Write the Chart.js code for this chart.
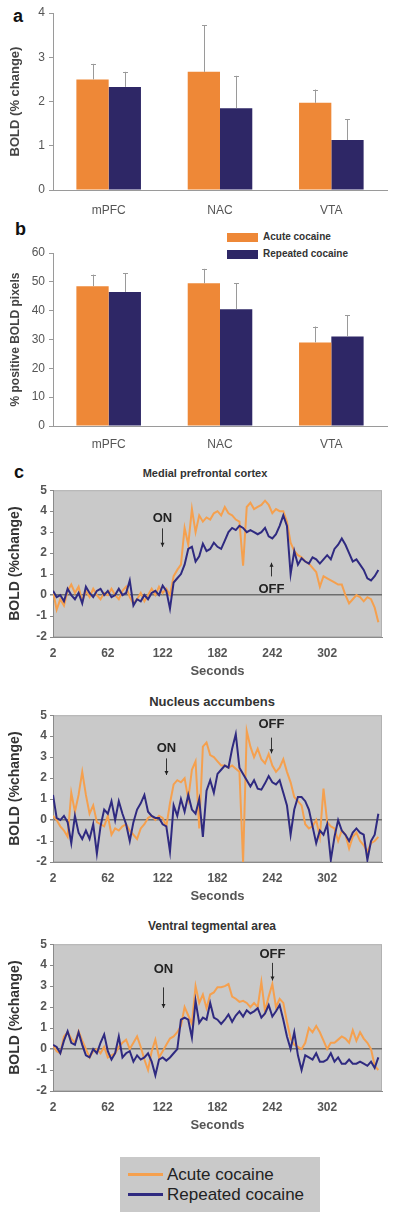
<!DOCTYPE html>
<html>
<head>
<meta charset="utf-8">
<script src="https://cdn.jsdelivr.net/npm/chart.js@4.4.0/dist/chart.umd.min.js"></script>
<style>
body { margin: 0; background: #fff; font-family: "Liberation Sans", Arial, sans-serif; }
#page { position: relative; width: 400px; height: 1217px; overflow: hidden; background: #fff; }
canvas { position: absolute; left: 0; display: block; }
.letter { position: absolute; font-weight: bold; font-size: 18px; line-height: 18px; color: #111; }
.title { position: absolute; font-weight: bold; color: #333; text-align: center; width: 260px; white-space: nowrap; }
.keytxt { position: absolute; font-weight: bold; font-size: 10px; line-height: 10px; color: #333; white-space: nowrap; }
.keybox { position: absolute; width: 31px; height: 9px; }
#legend { position: absolute; left: 120px; top: 1157px; width: 200px; height: 55px; background: #c9c9c9; }
#legend .ln { position: absolute; left: 8px; width: 35px; height: 3px; }
#legend .tx { position: absolute; left: 47px; font-size: 17px; line-height: 17px; color: #222; white-space: nowrap; }
</style>
</head>
<body>
<div id="page">
  <div class="letter" style="left:13px;top:7px">a</div>
  <div class="letter" style="left:15px;top:220px">b</div>
  <div class="letter" style="left:14px;top:463px">c</div>

  <div class="keybox" style="left:227px;top:233px;background:#ee8837"></div>
  <div class="keytxt" style="left:263px;top:232px">Acute cocaine</div>
  <div class="keybox" style="left:227px;top:250px;background:#2e2766"></div>
  <div class="keytxt" style="left:263px;top:249px">Repeated cocaine</div>

  <div class="title" style="left:75px;top:468px;font-size:11px;line-height:11px">Medial prefrontal cortex</div>
  <div class="title" style="left:82px;top:695px;font-size:13px;line-height:13px">Nucleus accumbens</div>
  <div class="title" style="left:82px;top:920px;font-size:12px;line-height:12px">Ventral tegmental area</div>

  <canvas id="chartA" width="400" height="222" style="top:0px"></canvas>
  <canvas id="chartB" width="400" height="240" style="top:225px"></canvas>
  <canvas id="chartC1" width="400" height="205" style="top:480px"></canvas>
  <canvas id="chartC2" width="400" height="205" style="top:705px"></canvas>
  <canvas id="chartC3" width="400" height="205" style="top:934px"></canvas>

  <div id="legend">
    <div class="ln" style="top:16px;background:#f5a04e"></div>
    <div class="tx" style="top:9px">Acute cocaine</div>
    <div class="ln" style="top:36px;background:#2f2a80"></div>
    <div class="tx" style="top:29px">Repeated cocaine</div>
  </div>
</div>
<script>
// datos de las barras (a y b)
const regions = ['mPFC', 'NAC', 'VTA'];
const boldAcute = [2.5, 2.67, 1.97];
const boldAcuteErr = [0.35, 1.05, 0.3];
const boldRepeated = [2.33, 1.85, 1.13];
const boldRepeatedErr = [0.34, 0.73, 0.47];
const pixelsAcute = [48.5, 49.5, 29];
const pixelsAcuteErr = [4, 5, 5.5];
const pixelsRepeated = [46.5, 40.5, 31];
const pixelsRepeatedErr = [6.5, 9, 7.5];

// series de tiempo (c)
const seconds = [
  2, 6, 10, 14, 18, 22, 26, 30, 34, 38,
  42, 46, 50, 54, 58, 62, 66, 70, 74, 78,
  82, 86, 90, 94, 98, 102, 106, 110, 114, 118,
  122, 126, 130, 134, 138, 142, 146, 150, 154, 158,
  162, 166, 170, 174, 178, 182, 186, 190, 194, 198,
  202, 206, 210, 214, 218, 222, 226, 230, 234, 238,
  242, 246, 250, 254, 258, 262, 266, 270, 274, 278,
  282, 286, 290, 294, 298, 302, 306, 310, 314, 318,
  322, 326, 330, 334, 338, 342, 346, 350, 354, 358
];
const secondTicks = [2, 62, 122, 182, 242, 302];

const mpfcAcute = [
  0.2, -0.7, -0.2, -0.5, 0.2, 0.5, 0.1, 0.4, -0.3, 0.2,
  -0.1, 0.3, 0.0, -0.2, 0.1, 0.0, 0.3, 0.0, -0.2, 0.2,
  0.4, -0.1, -0.4, -0.2, 0.1, -0.3, 0.0, 0.3, 0.0, 0.4,
  0.1, 0.3, 0.0, 0.9, 1.2, 1.45, 3.2, 2.4, 4.1, 3.0,
  3.8, 3.5, 3.7, 3.6, 3.9, 4.0, 3.8, 4.2, 3.9, 3.8,
  3.6, 3.5, 1.4, 4.2, 4.4, 4.1, 4.2, 4.3, 4.5, 4.3,
  3.9, 4.1, 4.0, 4.0, 3.5, 2.5, 2.1, 1.9, 1.8, 1.6,
  1.5, 1.3, 1.1, 0.4, 0.9, 0.8, 0.7, 0.6, 0.5, 0.5,
  0.0, -0.4, -0.2, 0.0, -0.1, -0.3, -0.1, -0.2, -0.6, -1.3
];
const mpfcRepeated = [
  0.2, -0.1, 0.0, -0.3, 0.3, 0.0, -0.2, 0.1, -0.4, 0.4,
  0.1, -0.1, 0.2, 0.3, 0.0, 0.2, -0.1, 0.0, 0.3, 0.0,
  0.1, 0.7, -0.5, -0.2, -0.3, 0.0, -0.2, 0.1, 0.2, 0.0,
  0.45, 0.2, -0.65, 0.6, 0.8, 1.0, 1.45, 2.2, 2.3, 1.6,
  1.85, 2.45, 2.1, 2.2, 2.5, 2.3, 2.2, 2.6, 3.0, 3.2,
  3.1, 3.3, 3.2, 3.0, 3.1, 3.0, 2.9, 3.0, 3.2, 2.8,
  2.7, 2.9, 3.3, 3.8, 3.3, 1.0, 2.1, 1.45, 1.75, 1.6,
  1.5, 1.8, 1.7, 1.5, 1.7, 1.9, 1.7, 2.2, 2.4, 2.7,
  2.4, 2.0, 1.6, 1.7, 1.45, 1.2, 0.8, 0.7, 0.9, 1.2
];
const nacAcute = [
  0.2, 0.0, -0.3, -0.5, -0.8, 1.3, 0.4, 1.2, 2.3, 1.2,
  0.3, 0.7, -0.1, -0.2, -0.3, 0.2, -0.7, -0.4, -0.5, -0.3,
  -0.2, -0.5, -0.7, -0.9, -0.4, -0.2, 0.1, 0.2, 0.0, 0.2,
  0.1, -0.3, 0.8, 1.7, 1.9, 1.8, 2.0, 1.0, 2.4, 2.8,
  -0.4, 3.5, 3.7, 3.1, 3.0, 2.8, 2.6, 2.6, 2.5, 2.6,
  2.45, 2.3, -2.0, 4.25, 3.5, 3.0, 3.4, 2.9, 2.7, 3.15,
  2.6, 2.3, 2.5, 2.9, 2.3, 1.8, 1.1, 0.9, 0.7, -0.2,
  -0.4, -0.3, 0.0, -0.8, 1.5, -0.1, -0.3, -0.4, -1.0, -0.5,
  -0.7, -1.35, -0.8, -0.6, -1.0, -1.2, -1.5, -1.1, -1.0, -0.8
];
const nacRepeated = [
  1.2, 0.1, 0.0, 0.2, -0.1, -1.1, 0.2, -0.6, -0.9, -0.5,
  -0.9, -0.2, -1.6, -0.3, 0.5, 0.3, 0.9, 0.0, 0.9, 0.3,
  -0.2, -1.0, -0.1, 0.5, 0.8, 1.2, 0.4, 0.2, 0.1, 0.1,
  -0.2, -0.3, -1.5, 0.7, 0.2, 1.0, 0.4, 1.2, 0.5, 0.3,
  1.0, -0.8, 1.4, 1.9, 1.3, 2.2, 2.4, 2.6, 2.5, 3.4,
  4.1, 2.5, 2.2, 1.9, 1.6, 1.9, 1.5, 1.45, 1.75, 2.1,
  1.8, 1.7, 1.9, 1.3, 0.7, -0.7, 0.5, 1.1, 1.1, 0.9,
  0.5, -0.3, -1.1, -0.5, -0.7, -0.2, -1.9, -0.8, 0.0, -0.5,
  -0.7, -1.0, -0.6, -0.4, -0.6, -0.7, -1.9, -1.0, -0.7, 0.3
];
const vtaAcute = [
  0.2, -0.1, -0.2, 0.6, 0.8, 0.5, 0.3, 0.85, 0.4, 0.0,
  -0.4, -0.1, 0.0, -0.2, 0.1, -0.4, -0.3, -0.2, 0.1, 0.3,
  0.45, 0.0, 0.3, 0.6, 0.1, -0.5, -1.0, -0.1, 0.45, -0.4,
  -0.1, 0.2, 0.5, 0.6, 0.8, 1.1, 2.0, 1.6, 1.2, 3.0,
  2.2, 2.6, 1.95, 2.6, 2.7, 2.95, 2.95, 3.0, 3.1, 2.5,
  2.4, 2.25, 2.3, 2.2, 2.0, 2.2, 2.0, 3.2, 1.8, 2.5,
  3.1, 2.0, 2.4, 2.2, 1.3, 0.5, 0.2, 0.1, 0.0, 0.3,
  1.0, 0.8, 1.1, 0.8, 0.4, 0.0, 0.3, 0.3, 0.45, 0.6,
  0.5, 0.3, 0.9, 0.4, 0.8, 0.5, 0.3, 0.0, -0.8, -1.0
];
const vtaRepeated = [
  0.2, 0.1, -0.2, 0.4, 0.85, 0.3, 0.2, 0.8, 0.2, -0.3,
  -0.4, 0.0, -0.2, 0.3, 0.7, -0.1, -0.5, -0.2, 0.6, -0.4,
  -0.2, -0.1, -0.6, -0.3, -0.5, -0.4, -0.2, -0.6, -1.25, -0.5,
  -0.4, -0.55, -0.4, -0.2, 0.0, 1.4, 1.5, 1.4, 0.55, 2.3,
  1.25, 1.5, 1.4, 2.2, 1.5, 1.4, 1.2, 1.4, 1.65, 1.3,
  1.6, 1.8, 1.55, 1.85, 1.7, 1.8, 1.95, 1.5, 1.7, 2.1,
  1.55, 1.8, 2.1, 1.4, 0.6, 0.0, 0.8, -0.3, -1.0, -0.3,
  -0.4, -0.5, -0.2, -0.6, -0.6, -0.5, -0.2, -0.6, -0.4, -0.7,
  -0.7, -0.5, -0.7, -0.7, -0.6, -0.7, -0.8, -0.6, -0.9, -0.4
];

Chart.defaults.font.family = '"Liberation Sans", Arial, sans-serif';
Chart.defaults.animation = false;

const ORANGE_BAR = '#ee8837', NAVY_BAR = '#2e2766';
const ORANGE_LINE = '#f5a04e', NAVY_LINE = '#2f2a80';

// barras de error hacia arriba
const errorBars = {
  id: 'errorBars',
  afterDatasetsDraw(chart) {
    const ctx = chart.ctx;
    const y = chart.scales.y;
    ctx.save();
    ctx.strokeStyle = '#9a9a9a';
    ctx.lineWidth = 1;
    chart.data.datasets.forEach((ds, i) => {
      chart.getDatasetMeta(i).data.forEach((bar, j) => {
        const top = y.getPixelForValue(ds.data[j]);
        const tip = y.getPixelForValue(ds.data[j] + ds.errors[j]);
        const x = Math.round(bar.x) + 0.5;
        ctx.beginPath();
        ctx.moveTo(x, top);
        ctx.lineTo(x, tip);
        ctx.moveTo(x - 2.5, Math.round(tip) + 0.5);
        ctx.lineTo(x + 2.5, Math.round(tip) + 0.5);
        ctx.stroke();
      });
    });
    ctx.restore();
  }
};

// fondo gris del area de trazado
const plotFrame = {
  id: 'plotFrame',
  beforeDraw(chart) {
    const a = chart.chartArea;
    const ctx = chart.ctx;
    ctx.save();
    ctx.fillStyle = '#c9c9c9';
    ctx.fillRect(a.left, a.top, a.width, a.height);
    ctx.strokeStyle = '#b2b2b2';
    ctx.lineWidth = 1;
    ctx.strokeRect(a.left + 0.5, a.top + 0.5, a.width - 1, a.height - 1);
    ctx.restore();
  }
};

// etiquetas ON / OFF con flechas
const onOff = {
  id: 'onOff',
  afterDatasetsDraw(chart, args, opts) {
    const xs = chart.scales.x, ys = chart.scales.y, ctx = chart.ctx;
    ctx.save();
    ctx.fillStyle = '#222';
    ctx.strokeStyle = '#333';
    ctx.lineWidth = 1;
    ctx.font = 'bold 13px "Liberation Sans", Arial, sans-serif';
    ctx.textAlign = 'center';
    ctx.textBaseline = 'middle';
    (opts.marks || []).forEach(m => {
      const x = Math.round(xs.getPixelForValue(m.t)) + 0.5;
      ctx.fillText(m.text, x, ys.getPixelForValue(m.textY));
      const y1 = ys.getPixelForValue(m.from), y2 = ys.getPixelForValue(m.to);
      ctx.beginPath();
      ctx.moveTo(x, y1);
      ctx.lineTo(x, y2);
      ctx.stroke();
      const d = y2 > y1 ? -1 : 1;
      ctx.beginPath();
      ctx.moveTo(x - 2, y2 + 4 * d);
      ctx.lineTo(x, y2);
      ctx.lineTo(x + 2, y2 + 4 * d);
      ctx.closePath();
      ctx.fill();
    });
    ctx.restore();
  }
};

function barChart(id, acute, acuteErr, repeated, repeatedErr, yMax, yStep, yTitle, titleSize, padTop, xHeight, labelPad) {
  return new Chart(document.getElementById(id), {
    type: 'bar',
    data: {
      labels: regions,
      datasets: [
        { label: 'Acute cocaine', data: acute, errors: acuteErr, backgroundColor: ORANGE_BAR },
        { label: 'Repeated cocaine', data: repeated, errors: repeatedErr, backgroundColor: NAVY_BAR }
      ]
    },
    options: {
      responsive: false,
      layout: { padding: { top: padTop, right: 13, left: 0, bottom: 0 } },
      datasets: { bar: { barPercentage: 1, categoryPercentage: 0.58 } },
      plugins: { legend: { display: false }, tooltip: { enabled: false } },
      scales: {
        x: {
          grid: { display: false, drawTicks: false },
          border: { display: true, color: '#9a9a9a' },
          ticks: { color: '#555', font: { size: 12 }, padding: labelPad },
          afterFit(s) { s.height = xHeight; }
        },
        y: {
          min: 0, max: yMax,
          ticks: { stepSize: yStep, color: '#555', font: { size: 12 }, padding: 4 },
          grid: { drawOnChartArea: false, drawTicks: true, tickLength: 4, color: '#9a9a9a' },
          border: { display: true, color: '#9a9a9a' },
          title: { display: true, text: yTitle, color: '#444', font: { size: titleSize, weight: 'bold' }, padding: { top: 8, bottom: 0 } },
          afterFit(s) { s.width = 53; }
        }
      }
    },
    plugins: [errorBars]
  });
}

function lineChart(id, acute, repeated, marks) {
  return new Chart(document.getElementById(id), {
    type: 'line',
    data: {
      labels: seconds,
      datasets: [
        { label: 'Acute cocaine', data: acute, borderColor: ORANGE_LINE, borderWidth: 2, pointRadius: 0, order: 1 },
        { label: 'Repeated cocaine', data: repeated, borderColor: NAVY_LINE, borderWidth: 2, pointRadius: 0, order: 0 }
      ]
    },
    options: {
      responsive: false,
      layout: { padding: { top: 7, right: 18, left: 0, bottom: 0 } },
      plugins: { legend: { display: false }, tooltip: { enabled: false }, onOff: { marks: marks } },
      scales: {
        x: {
          type: 'linear', min: 2, max: 362,
          afterBuildTicks(s) { s.ticks = secondTicks.map(v => ({ value: v })); },
          grid: { display: false, drawTicks: false },
          border: { display: true, color: '#8a8a8a' },
          ticks: { color: '#555', font: { size: 12, weight: 'bold' }, padding: 9 },
          title: { display: true, text: 'Seconds', color: '#555', font: { size: 13, weight: 'bold' }, padding: { top: 0, bottom: 6 } },
          afterFit(s) { s.height = 48; }
        },
        y: {
          min: -2, max: 5,
          ticks: { stepSize: 1, color: '#555', font: { size: 12, weight: 'bold' }, padding: 3 },
          grid: {
            drawTicks: true, tickLength: 3, tickColor: '#8a8a8a',
            color: ctx => ctx.tick && ctx.tick.value === 0 ? '#6e6e6e' : 'rgba(0,0,0,0)',
            lineWidth: ctx => ctx.tick && ctx.tick.value === 0 ? 1.5 : 1
          },
          border: { display: true, color: '#8a8a8a' },
          title: { display: true, text: 'BOLD (%change)', color: '#333', font: { size: 14, weight: 'bold' }, padding: { top: 7, bottom: 0 } },
          afterFit(s) { s.width = 53; }
        }
      }
    },
    plugins: [plotFrame, onOff]
  });
}

barChart('chartA', boldAcute, boldAcuteErr, boldRepeated, boldRepeatedErr, 4, 1, 'BOLD (% change)', 13, 13, 32, 13);
barChart('chartB', pixelsAcute, pixelsAcuteErr, pixelsRepeated, pixelsRepeatedErr, 60, 10, '% positive BOLD pixels', 12, 28, 39, 11);

lineChart('chartC1', mpfcAcute, mpfcRepeated, [
  { text: 'ON', t: 121, textY: 3.64, from: 3.18, to: 2.3 },
  { text: 'OFF', t: 240, textY: 0.28, from: 0.89, to: 1.54 }
]);
lineChart('chartC2', nacAcute, nacRepeated, [
  { text: 'ON', t: 126, textY: 3.41, from: 2.94, to: 2.15 },
  { text: 'OFF', t: 240, textY: 4.58, from: 3.93, to: 3.18 }
]);
lineChart('chartC3', vtaAcute, vtaRepeated, [
  { text: 'ON', t: 122, textY: 3.79, from: 2.94, to: 1.96 },
  { text: 'OFF', t: 242, textY: 4.53, from: 4.11, to: 3.27 }
]);
</script>
</body>
</html>
